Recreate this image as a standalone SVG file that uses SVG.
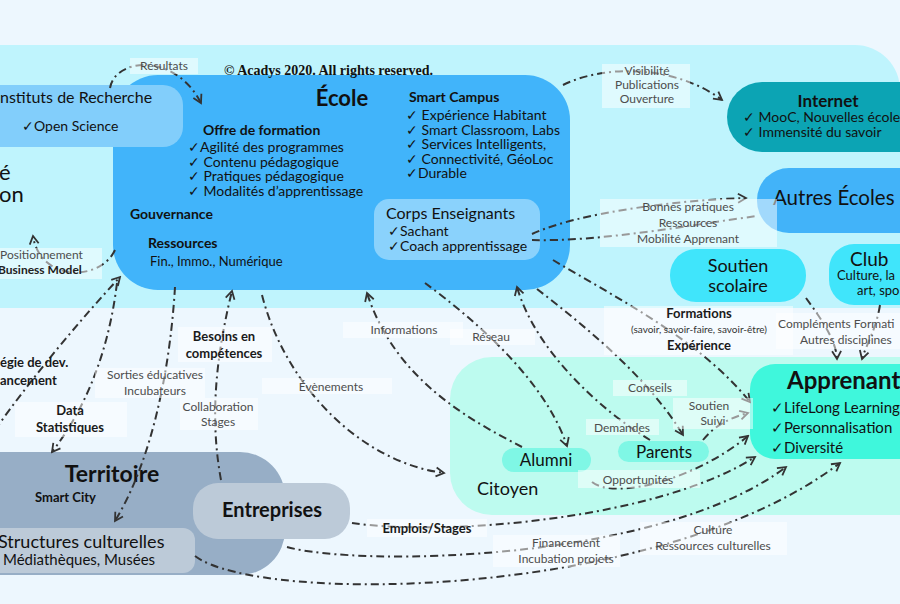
<svg xmlns="http://www.w3.org/2000/svg" width="900" height="604" viewBox="0 0 900 604">
<style>
text{font-family:Lato,"Liberation Sans",sans-serif;fill:#111}
.lb{font-size:12px;fill:#4d4d4d}
.lbb{font-size:13px;font-weight:bold;fill:#1a1a1a}
.lbox{fill:#ffffff;fill-opacity:0.5}
.c{fill:none;stroke:#333;stroke-width:2;stroke-dasharray:8 4 2 4}
.a{marker-end:url(#arr)}
.it{font-size:14px}
.b{font-weight:bold}
.m{text-anchor:middle}
</style>
<defs>
<marker id="arr" viewBox="0 0 12 12" refX="10" refY="6" markerWidth="12" markerHeight="12" markerUnits="userSpaceOnUse" orient="auto">
<path d="M2,1.5 L10,6 L2,10.5" fill="none" stroke="#333" stroke-width="1.8"/>
</marker>
</defs>
<rect x="0" y="0" width="900" height="604" fill="#edf7fe"/>
<path d="M0,45 H855 A45,45 0 0 1 900,90 V308 H0 Z" fill="#bff4fd"/>
<path d="M492,357 H900 V515 H492 A42,42 0 0 1 450,473 V399 A42,42 0 0 1 492,357 Z" fill="#bdfbef"/>

<g id="ecole">
<rect x="113" y="75" width="457" height="215" rx="45" fill="#41b4fa"/>
<text x="342" y="106" class="m b" font-size="22">École</text>
<text x="409" y="102" class="b it">Smart Campus</text>
<text x="406" y="120" class="it">✓ Expérience Habitant</text>
<text x="406" y="134.5" class="it">✓ Smart Classroom, Labs</text>
<text x="406" y="149" class="it">✓ Services Intelligents,</text>
<text x="406" y="163.5" class="it">✓ Connectivité, GéoLoc</text>
<text x="406" y="178" class="it">✓Durable</text>
<text x="203" y="135" class="b it">Offre de formation</text>
<text x="188" y="152" class="it">✓Agilité des programmes</text>
<text x="188" y="166.5" class="it">✓ Contenu pédagogique</text>
<text x="188" y="181" class="it">✓ Pratiques pédagogique</text>
<text x="188" y="195.5" class="it">✓ Modalités d’apprentissage</text>
<text x="130" y="219" class="b it">Gouvernance</text>
<text x="148" y="248" class="b it">Ressources</text>
<text x="150" y="266" font-size="13">Fin., Immo., Numérique</text>
</g>
<g id="corps">
<rect x="374" y="199" width="166" height="61" rx="15" fill="#8ad2fc"/>
<text x="386" y="219" font-size="16">Corps Enseignants</text>
<text x="388" y="235.5" class="it">✓Sachant</text>
<text x="388" y="250.5" class="it">✓Coach apprentissage</text>
</g>
<g id="instituts">
<rect x="-30" y="85" width="213" height="62" rx="20" fill="#82cefb"/>
<text x="0" y="103" font-size="16">nstituts de Recherche</text>
<text x="22" y="131" class="it">✓Open Science</text>
</g>
<g id="left-node">
<text x="-1" y="180" font-size="22">é</text>
<text x="-1" y="202" font-size="22">on</text>
</g>
<g id="internet">
<rect x="727" y="82" width="220" height="70" rx="35" fill="#0ca4b4"/>
<text x="828" y="107" class="m b" font-size="17">Internet</text>
<text x="743" y="122" class="it">✓ MooC, Nouvelles écoles</text>
<text x="743" y="137" class="it">✓ Immensité du savoir</text>
</g>
<g id="autres-ecoles">
<rect x="757" y="168" width="190" height="65" rx="32" fill="#42b3f9"/>
<text x="773" y="205" font-size="20.5">Autres Écoles</text>
</g>
<g id="soutien-scolaire">
<rect x="670" y="249" width="136" height="53" rx="26" fill="#40e5fb"/>
<text x="738" y="272" class="m" font-size="18">Soutien</text>
<text x="738" y="292" class="m" font-size="18">scolaire</text>
</g>
<g id="club">
<rect x="829" y="244" width="110" height="61" rx="25" fill="#40e5fb"/>
<text x="850" y="266" font-size="19">Club</text>
<text x="837" y="280" font-size="13">Culture, la</text>
<text x="857" y="295" font-size="13">art, spo</text>
</g>
<g id="apprenant">
<rect x="750" y="364" width="190" height="95" rx="25" fill="#3ff7dc"/>
<text x="787" y="389" class="b" font-size="24">Apprenant</text>
<text x="771" y="413" font-size="15">✓LifeLong Learning</text>
<text x="771" y="433" font-size="15">✓Personnalisation</text>
<text x="771" y="453" font-size="15">✓Diversité</text>
</g>
<g id="citoyen">
<text x="477" y="495" font-size="18">Citoyen</text>
</g>
<g id="alumni">
<rect x="502" y="448" width="89" height="24" rx="12" fill="#7ff7e5"/>
<text x="546" y="466" class="m" font-size="17">Alumni</text>
</g>
<g id="parents">
<rect x="618" y="441" width="91" height="21" rx="10.5" fill="#7ff7e5"/>
<text x="664" y="457.5" class="m" font-size="17">Parents</text>
</g>
<g id="territoire">
<rect x="-50" y="452" width="335" height="123" rx="45" fill="#97aec6"/>
<text x="112" y="482" class="m b" font-size="23">Territoire</text>
<text x="35" y="502" class="b" font-size="13">Smart City</text>
</g>
<g id="structures">
<rect x="-20" y="528" width="215" height="45" rx="12" fill="#bccad8"/>
<text x="-2" y="548" font-size="18">Structures culturelles</text>
<text x="3" y="565" font-size="15">Médiathèques, Musées</text>
</g>
<g id="entreprises">
<rect x="193" y="483" width="157" height="56" rx="25" fill="#bccad8"/>
<text x="272" y="517" class="m b" font-size="20">Entreprises</text>
</g>

<g id="connectors">
<path class="c a" d="M110,88 C115,58 175,52 201,103"/>
<path class="c a" d="M563,85 C610,62 680,68 722,100"/>
<path class="c a" d="M532,234 C580,212 680,200 746,198"/>
<path class="c" d="M532,240 C600,242 690,225 757,216"/>
<path class="c a" d="M553,260 C620,300 700,340 750,402"/>
<path class="c a" d="M806,298 C822,320 836,340 837,359"/>
<path class="c a" d="M880,305 C876,330 866,345 862,359"/>
<path class="c a" d="M425,283 C475,320 545,380 567,446"/>
<path class="c a" d="M522,447 C470,420 395,380 367,293"/>
<path class="c a" d="M262,295 C285,385 360,462 444,473"/>
<path class="c a" d="M650,440 C600,410 535,350 517,287"/>
<path class="c a" d="M537,289 C590,330 650,380 683,435"/>
<path class="c a" d="M703,440 C715,425 730,418 748,413"/>
<path class="c a" d="M592,482 C615,500 695,480 748,436"/>
<path class="c a" d="M352,523 C450,537 660,518 755,457"/>
<path class="c a" d="M287,547 C360,567 660,562 786,467"/>
<path class="c a" d="M195,556 C260,605 660,600 840,463"/>
<path class="c a" d="M115,250 C100,282 40,282 33,236"/>
<path class="c a" d="M-5,430 C30,380 80,320 120,277"/>
<path class="c a" d="M117,283 C110,340 92,400 52,452"/>
<path class="c a" d="M175,287 C170,370 152,460 115,521"/>
<path class="c a" d="M221,480 C210,420 215,360 232,291"/>
</g>

<g id="labels">
<rect class="lbox" x="130" y="58" width="68" height="16"/>
<text x="164" y="70" class="lb m">Résultats</text>
<rect class="lbox" x="602" y="64" width="88" height="44"/>
<text x="647" y="75" class="lb m">Visibilité</text>
<text x="647" y="89" class="lb m">Publications</text>
<text x="647" y="103" class="lb m">Ouverture</text>
<rect class="lbox" x="600" y="199" width="177" height="48"/>
<text x="688" y="211" class="lb m">Bonnes pratiques</text>
<text x="688" y="227" class="lb m">Ressources</text>
<text x="688" y="243" class="lb m">Mobilité Apprenant</text>
<rect class="lbox" x="0" y="248" width="102" height="31"/>
<text x="0" y="259" class="lb">Positionnement</text>
<text x="-2" y="274" class="lb b" style="fill:#222">Business Model</text>
<text x="0" y="367" class="lbb">égie de dev.</text>
<text x="0" y="385" class="lbb">ancement</text>
<rect class="lbox" x="15" y="402" width="112" height="35"/>
<text x="70" y="415" class="lbb m">Data</text>
<text x="70" y="432" class="lbb m">Statistiques</text>
<rect class="lbox" x="95" y="368" width="110" height="30"/>
<text x="155" y="379" class="lb m">Sorties éducatives</text>
<text x="155" y="395" class="lb m">Incubateurs</text>
<rect class="lbox" x="178" y="327" width="94" height="35"/>
<text x="224" y="341" class="lbb m">Besoins en</text>
<text x="224" y="358" class="lbb m">compétences</text>
<rect class="lbox" x="180" y="398" width="78" height="32"/>
<text x="218" y="411" class="lb m">Collaboration</text>
<text x="218" y="426" class="lb m">Stages</text>
<rect class="lbox" x="343" y="322" width="120" height="16"/>
<text x="404" y="334" class="lb m">Informations</text>
<rect class="lbox" x="450" y="329" width="85" height="16"/>
<text x="491" y="341" class="lb m">Réseau</text>
<rect class="lbox" x="262" y="378" width="130" height="16"/>
<text x="331" y="391" class="lb m">Évènements</text>
<rect class="lbox" x="604" y="306" width="189" height="49"/>
<text x="699" y="318" class="lbb m">Formations</text>
<text x="699" y="333" class="m" font-size="10" style="fill:#333">(savoir, savoir-faire, savoir-être)</text>
<text x="699" y="350" class="lbb m">Expérience</text>
<rect class="lbox" x="776" y="313" width="124" height="36"/>
<text x="778" y="328" class="lb">Compléments Formati</text>
<text x="800" y="344" class="lb">Autres disciplines</text>
<rect class="lbox" x="613" y="380" width="74" height="16"/>
<text x="650" y="392" class="lb m">Conseils</text>
<rect class="lbox" x="673" y="398" width="80" height="31"/>
<text x="709" y="410" class="lb m">Soutien</text>
<text x="713" y="425" class="lb m">Suivi</text>
<rect class="lbox" x="586" y="419" width="73" height="16"/>
<text x="622" y="432" class="lb m">Demandes</text>
<rect class="lbox" x="578" y="470" width="122" height="18"/>
<text x="638" y="484" class="lb m">Opportunités</text>
<rect class="lbox" x="367" y="519" width="120" height="18"/>
<text x="427" y="533" class="lbb m">Emplois/Stages</text>
<rect class="lbox" x="493" y="535" width="127" height="32"/>
<text x="566" y="547" class="lb m">Financement</text>
<text x="566" y="563" class="lb m">Incubation projets</text>
<rect class="lbox" x="640" y="522" width="147" height="33"/>
<text x="713" y="534" class="lb m">Culture</text>
<text x="713" y="550" class="lb m">Ressources culturelles</text>
</g>

<text x="224" y="75" style="font-family:'Liberation Serif',serif;font-weight:bold;font-size:14px">© Acadys 2020. All rights reserved.</text>
</svg>
